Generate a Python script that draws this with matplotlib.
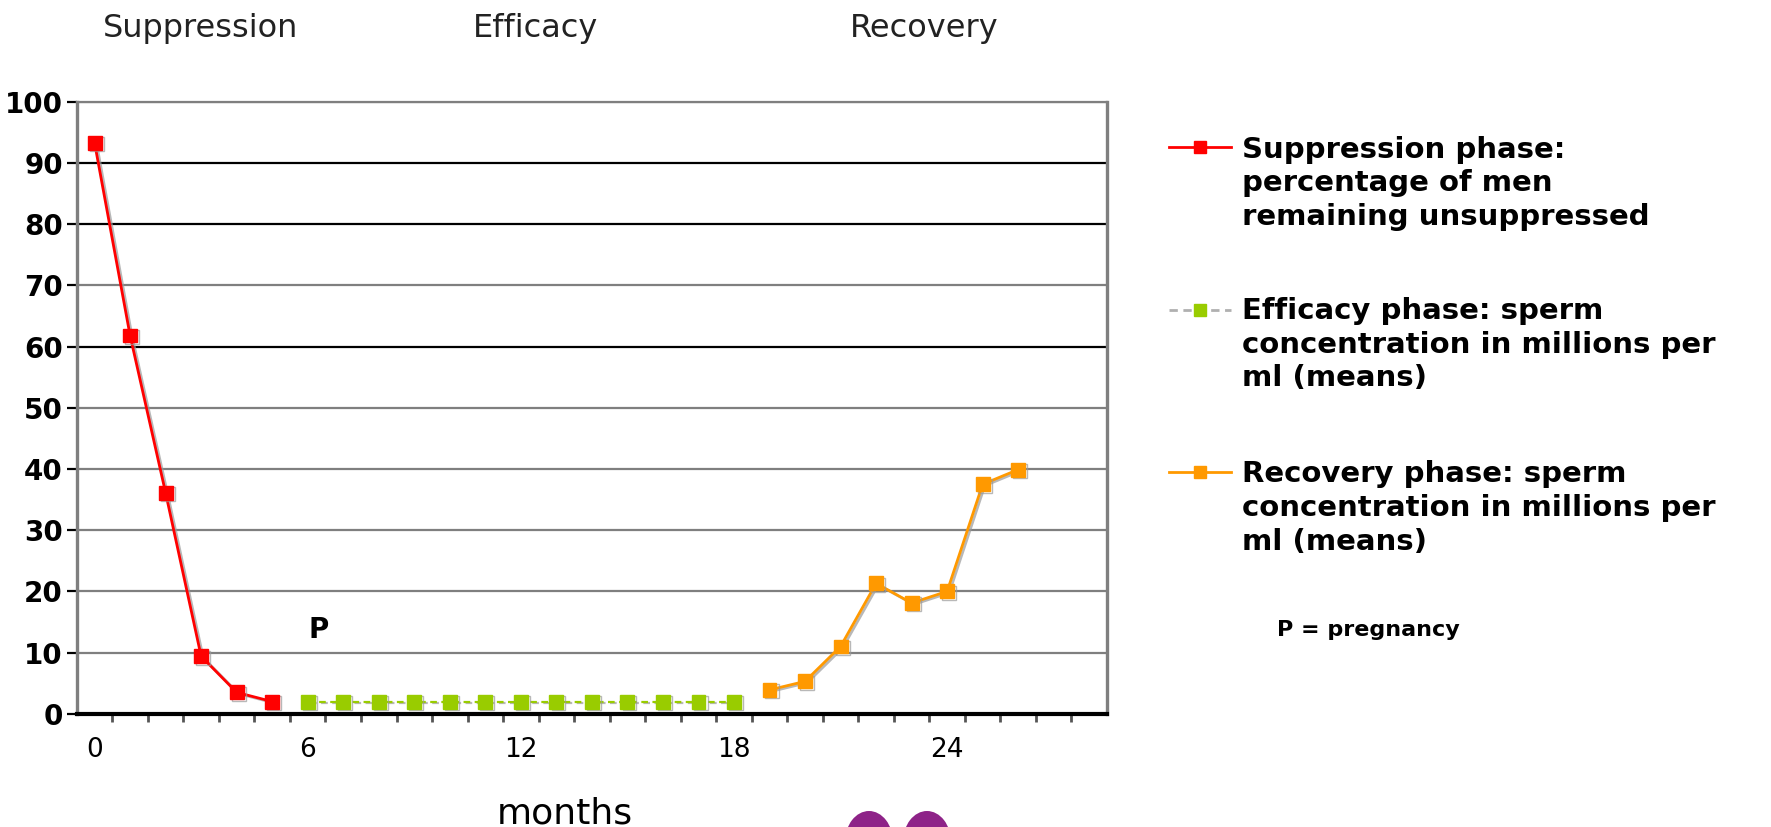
import matplotlib
matplotlib.use('Agg')
import matplotlib.pyplot as plt
from matplotlib.lines import Line2D
from matplotlib.patches import Ellipse
import matplotlib.patheffects as pe

# ---------------- data ----------------
supp_months = [0, 1, 2, 3, 4, 5]
supp_values = [93.3, 61.8, 36.1, 9.4, 3.5, 2.0]

eff_months = [6, 7, 8, 9, 10, 11, 12, 13, 14, 15, 16, 17, 18]
eff_values = [2.0, 2.0, 2.0, 2.0, 2.0, 2.0, 2.0, 2.0, 2.0, 2.0, 2.0, 2.0, 2.0]

rec_months = [19, 20, 21, 22, 23, 24, 25, 26]
rec_values = [3.9, 5.3, 11.0, 21.3, 18.1, 20.0, 37.5, 39.9]

x_tick_pos = [0, 6, 12, 18, 24]
x_tick_labels = ['0', '6', '12', '18', '24']
y_ticks = [0, 10, 20, 30, 40, 50, 60, 70, 80, 90, 100]
dark_grid = [0, 60, 80, 90]

phase_titles = ['Suppression', 'Efficacy', 'Recovery']
legend_entries = [
    ['Suppression phase:', 'percentage of men', 'remaining unsuppressed'],
    ['Efficacy phase: sperm', 'concentration in millions per', 'ml (means)'],
    ['Recovery phase: sperm', 'concentration in millions per', 'ml (means)'],
]

RED = '#FF0000'
GREEN = '#99CC00'
ORANGE = '#FF9900'
GRAY = '#7f7f7f'

# ---------------- figure ----------------
W, H = 1771, 827
fig = plt.figure(figsize=(W / 100, H / 100), dpi=100)
fig.patch.set_facecolor('white')

def fx(px):
    return px / W

def fy(py):
    return 1 - py / H

ax = fig.add_axes([fx(76.8), fy(713.8), fx(1107) - fx(76.8), fy(101.7) - fy(713.8)])

shadow = [pe.SimpleLineShadow(offset=(1.5, -1.0), shadow_color='#9a9a9a', alpha=0.7), pe.Normal()]

ax.plot(supp_months, supp_values, color=RED, lw=2, marker='s', ms=10, mec=RED,
        zorder=5, path_effects=shadow)
ax.plot(eff_months, eff_values, color=GREEN, lw=1.6, ls=(0, (3, 2)), marker='s', ms=10,
        mec=GREEN, zorder=5, path_effects=shadow)
ax.plot(rec_months, rec_values, color=ORANGE, lw=2, marker='s', ms=10, mec=ORANGE,
        zorder=5, path_effects=shadow)

ax.set_xlim(-0.5, 28.5)
ax.set_ylim(0, 100)

# y axis
ax.set_yticks(y_ticks)
ax.set_yticklabels([str(v) for v in y_ticks])
ax.grid(axis='y', color=GRAY, lw=1.6, zorder=1)
for gl, v in zip(ax.get_ygridlines(), y_ticks):
    if v in dark_grid:
        gl.set_color('black')
ax.tick_params(axis='y', length=7, width=1.6, pad=3, labelsize=20)
for t, v in zip(ax.yaxis.get_major_ticks(), y_ticks):
    t.tick1line.set_color('black' if v in dark_grid else GRAY)
for lbl in ax.get_yticklabels():
    lbl.set_fontweight('bold')

# x axis
ax.set_xticks(x_tick_pos)
ax.set_xticklabels(x_tick_labels)
ax.set_xticks([k - 0.5 for k in range(1, 29)], minor=True)
ax.tick_params(axis='x', which='major', length=0, pad=17, labelsize=19)
ax.tick_params(axis='x', which='minor', length=6, width=2, color='#555555')

for side in ['left', 'right', 'top']:
    ax.spines[side].set_color(GRAY)
ax.spines['left'].set_linewidth(2.4)
ax.spines['right'].set_linewidth(2.4)
ax.spines['top'].set_linewidth(1.6)
ax.spines['bottom'].set_color('black')
ax.spines['bottom'].set_linewidth(3)

ax.text(6.3, 13.7, 'P', fontsize=20, fontweight='bold', ha='center', va='center')

# phase headings
for title, px in zip(phase_titles, [201, 536, 924]):
    fig.text(fx(px), fy(28), title, fontsize=23, color='#222222', ha='center', va='center')

# months label
fig.text(fx(565), fy(823), 'months', fontsize=26, ha='center', va='baseline')

# legend (manual)
leg_colors = [RED, GREEN, ORANGE]
leg_marker_y = [147, 310, 472]
leg_text_y = [[150, 183, 217], [311, 345, 378], [474, 508, 542]]
for col, my, lines, tys, i in zip(leg_colors, leg_marker_y, legend_entries, leg_text_y, range(3)):
    ls = (0, (3, 2)) if i == 1 else '-'
    lc = '#b0b0b0' if i == 1 else col
    fig.add_artist(Line2D([fx(1169), fx(1231)], [fy(my), fy(my)], transform=fig.transFigure,
                          color=lc, lw=2, ls=ls))
    fig.add_artist(Line2D([fx(1200)], [fy(my)], transform=fig.transFigure, color=col,
                          marker='s', ms=9, mec=col, ls='none'))
    for s, ty in zip(lines, tys):
        fig.text(fx(1242), fy(ty), s, fontsize=21, fontweight='bold', va='center', ha='left')

fig.text(fx(1277), fy(630), 'P = pregnancy', fontsize=16, fontweight='bold', va='center', ha='left')

# partial purple logo at the bottom edge
for cx in [869, 927]:
    fig.add_artist(Ellipse((fx(cx), fy(842)), fx(48), 62 / H, transform=fig.transFigure,
                           facecolor='#8E2388', edgecolor='none'))

fig.savefig('out.png', dpi=100)
